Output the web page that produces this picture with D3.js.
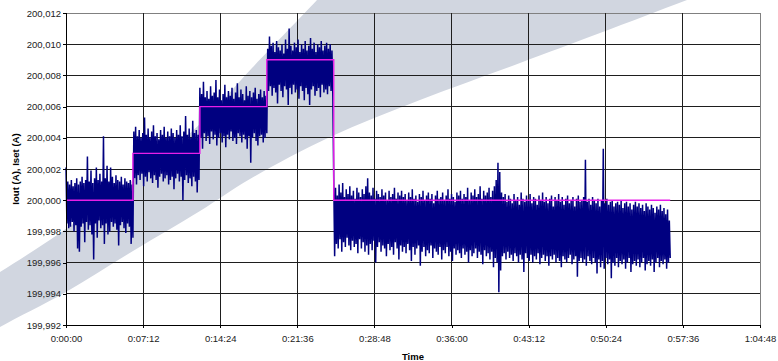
<!DOCTYPE html>
<html>
<head>
<meta charset="utf-8">
<script src="https://cdn.jsdelivr.net/npm/d3@7"></script>
<style>
  html, body { margin: 0; padding: 0; background: #ffffff; }
  svg { display: block; font-family: "Liberation Sans", Arial, sans-serif; }
</style>
</head>
<body>
<svg id="chart" width="778" height="361"></svg>
<script>
// ---- Time axis (seconds) ----
const xTickSeconds = [0, 432, 864, 1296, 1728, 2160, 2592, 3024, 3456, 3888];
const xTickLabels = ["0:00:00", "0:07:12", "0:14:24", "0:21:36", "0:28:48",
                     "0:36:00", "0:43:12", "0:50:24", "0:57:36", "1:04:48"];

// ---- Current axis (A) ----
const yTickValues = [199.992, 199.994, 199.996, 199.998, 200.000, 200.002,
                     200.004, 200.006, 200.008, 200.010, 200.012];
const yTickLabels = ["199,992", "199,994", "199,996", "199,998", "200,000", "200,002",
                     "200,004", "200,006", "200,008", "200,010", "200,012"];

// ---- Setpoint Iset: step start times (s) and levels (A) ----
const isetTimes  = [0, 375, 750, 1125, 1500, 3385];
const isetLevels = [200.000, 200.003, 200.006, 200.009, 200.000, 200.000];

// ---- Measured Iout ----
// For every 10 s interval the highest and lowest reading (A), one pair of arrays per setpoint step.
const SAMPLE_SECONDS = 10;
const stepStartSeconds = [0, 380, 750, 1130, 1500];

const step1High = [200.0021,200.0012,200.0010,200.0013,200.0009,200.0011,200.0014,200.0010,200.0012,200.0015,
  200.0011,200.0013,200.0028,200.0012,200.0019,200.0011,200.0014,200.0021,200.0013,200.0017,
  200.0012,200.0041,200.0014,200.0022,200.0012,200.0021,200.0015,200.0011,200.0016,200.0013,
  200.0012,200.0015,200.0010,200.0014,200.0012,200.0011,200.0013,200.0010];
const step1Low = [199.9985,199.9982,199.9983,199.9986,199.9980,199.9984,199.9969,199.9967,199.9983,199.9985,
  199.9973,199.9986,199.9981,199.9984,199.9978,199.9962,199.9985,199.9976,199.9987,199.9982,
  199.9984,199.9972,199.9985,199.9978,199.9980,199.9986,199.9983,199.9985,199.9981,199.9971,
  199.9984,199.9986,199.9982,199.9979,199.9985,199.9983,199.9972,199.9976];

const step2High = [200.0044,200.0047,200.0041,200.0045,200.0040,200.0043,200.0053,200.0042,200.0046,200.0040,
  200.0044,200.0048,200.0041,200.0043,200.0039,200.0045,200.0042,200.0047,200.0040,200.0044,
  200.0041,200.0046,200.0043,200.0040,200.0045,200.0042,200.0048,200.0041,200.0044,200.0054,
  200.0042,200.0046,200.0040,200.0051,200.0043,200.0045,200.0042];
const step2Low = [200.0014,200.0010,200.0016,200.0013,200.0017,200.0009,200.0015,200.0012,200.0018,200.0014,
  200.0011,200.0016,200.0013,200.0008,200.0015,200.0017,200.0012,200.0014,200.0016,200.0010,
  200.0013,200.0015,200.0007,200.0014,200.0017,200.0012,200.0015,200.0000,200.0013,200.0016,
  200.0011,200.0014,200.0009,200.0015,200.0012,200.0005,200.0013];

const step3High = [200.0072,200.0068,200.0076,200.0066,200.0070,200.0065,200.0073,200.0067,200.0069,200.0077,
  200.0066,200.0071,200.0064,200.0068,200.0074,200.0066,200.0070,200.0067,200.0072,200.0065,
  200.0069,200.0075,200.0066,200.0071,200.0068,200.0064,200.0073,200.0067,200.0070,200.0066,
  200.0069,200.0072,200.0065,200.0068,200.0071,200.0066,200.0070,200.0067];
const step3Low = [200.0040,200.0033,200.0043,200.0038,200.0041,200.0036,200.0044,200.0039,200.0042,200.0035,
  200.0040,200.0043,200.0037,200.0041,200.0034,200.0042,200.0039,200.0044,200.0038,200.0040,
  200.0036,200.0043,200.0041,200.0037,200.0042,200.0039,200.0033,200.0041,200.0024,200.0040,
  200.0043,200.0038,200.0035,200.0041,200.0042,200.0037,200.0040,200.0043];

const step4High = [200.0097,200.0105,200.0099,200.0101,200.0095,200.0102,200.0098,200.0096,200.0100,200.0094,
  200.0103,200.0097,200.0110,200.0099,200.0096,200.0101,200.0098,200.0103,200.0095,200.0100,
  200.0097,200.0102,200.0096,200.0099,200.0104,200.0097,200.0101,200.0095,200.0100,200.0098,
  200.0102,200.0096,200.0099,200.0101,200.0097,200.0100,200.0096];
const step4Low = [200.0070,200.0073,200.0067,200.0072,200.0069,200.0062,200.0074,200.0070,200.0066,200.0073,
  200.0071,200.0061,200.0072,200.0068,200.0074,200.0069,200.0071,200.0065,200.0073,200.0070,
  200.0064,200.0072,200.0068,200.0061,200.0071,200.0073,200.0067,200.0070,200.0072,200.0066,
  200.0074,200.0069,200.0071,200.0068,200.0073,200.0070,200.0066];

const step5High = [200.0012,200.0008,200.0003,200.0010,200.0005,200.0011,200.0002,200.0007,200.0004,200.0009,
  200.0003,200.0006,200.0001,200.0008,200.0005,200.0002,200.0007,200.0004,200.0009,200.0014,
  200.0005,200.0003,200.0008,200.0001,200.0006,200.0004,200.0002,200.0007,200.0003,200.0005,
  200.0000,200.0006,200.0002,200.0004,200.0008,200.0001,200.0005,200.0003,200.0006,200.0002,
  200.0004,200.0000,200.0005,200.0002,200.0007,200.0001,200.0003,199.9999,200.0004,200.0002,
  200.0006,200.0000,200.0003,200.0005,200.0001,200.0004,199.9998,200.0003,200.0006,200.0001,
  200.0002,200.0005,200.0000,200.0003,200.0007,200.0001,200.0004,200.0002,199.9999,200.0005,
  200.0003,200.0006,200.0001,200.0004,200.0002,200.0008,200.0000,200.0005,200.0003,200.0007,
  200.0002,200.0004,200.0009,200.0001,200.0006,200.0003,200.0005,200.0008,200.0002,200.0006,
  200.0009,200.0013,200.0024,200.0018,200.0005,200.0002,200.0004,199.9999,200.0003,200.0001,
  199.9998,200.0004,200.0000,200.0002,199.9997,200.0005,200.0001,199.9999,200.0003,200.0000,
  200.0004,199.9998,200.0002,200.0001,199.9997,200.0003,200.0000,200.0005,199.9999,200.0002,
  199.9998,200.0001,200.0003,199.9996,200.0002,200.0000,200.0004,199.9999,200.0002,199.9997,
  200.0001,200.0003,199.9998,200.0000,200.0002,199.9996,200.0001,200.0003,199.9999,200.0000,
  200.0002,200.0026,199.9999,200.0001,199.9997,200.0002,200.0000,199.9998,200.0001,199.9996,
  200.0000,200.0033,199.9998,200.0001,199.9997,199.9999,200.0000,199.9996,199.9998,199.9999,
  199.9997,200.0000,199.9995,199.9998,199.9999,199.9996,199.9998,199.9994,199.9997,199.9999,
  199.9996,199.9998,199.9995,199.9997,199.9993,199.9998,199.9996,199.9994,199.9997,199.9995,
  199.9992,199.9996,199.9994,199.9997,199.9993,199.9995,199.9991,199.9994,199.9987];
const step5Low = [199.9964,199.9972,199.9969,199.9975,199.9967,199.9973,199.9970,199.9976,199.9971,199.9968,
  199.9974,199.9970,199.9972,199.9966,199.9975,199.9969,199.9973,199.9967,199.9971,199.9965,
  199.9972,199.9968,199.9974,199.9960,199.9970,199.9973,199.9967,199.9971,199.9969,199.9964,
  199.9972,199.9968,199.9970,199.9965,199.9973,199.9969,199.9962,199.9971,199.9967,199.9970,
  199.9966,199.9972,199.9968,199.9961,199.9970,199.9965,199.9969,199.9971,199.9958,199.9967,
  199.9970,199.9964,199.9968,199.9966,199.9971,199.9963,199.9969,199.9967,199.9965,199.9970,
  199.9962,199.9968,199.9966,199.9970,199.9964,199.9967,199.9961,199.9969,199.9965,199.9968,
  199.9966,199.9963,199.9969,199.9965,199.9967,199.9960,199.9968,199.9964,199.9966,199.9969,
  199.9963,199.9967,199.9965,199.9959,199.9968,199.9964,199.9966,199.9962,199.9967,199.9957,
  199.9963,199.9960,199.9941,199.9955,199.9964,199.9966,199.9962,199.9967,199.9963,199.9965,
  199.9961,199.9966,199.9964,199.9960,199.9965,199.9962,199.9954,199.9966,199.9963,199.9961,
  199.9965,199.9960,199.9964,199.9962,199.9966,199.9959,199.9963,199.9965,199.9961,199.9964,
  199.9958,199.9964,199.9962,199.9965,199.9960,199.9963,199.9961,199.9957,199.9964,199.9962,
  199.9960,199.9963,199.9965,199.9959,199.9962,199.9964,199.9951,199.9961,199.9963,199.9960,
  199.9962,199.9958,199.9964,199.9961,199.9959,199.9963,199.9960,199.9953,199.9962,199.9957,
  199.9961,199.9956,199.9963,199.9959,199.9962,199.9950,199.9960,199.9958,199.9963,199.9957,
  199.9961,199.9959,199.9962,199.9956,199.9960,199.9963,199.9954,199.9959,199.9961,199.9958,
  199.9962,199.9957,199.9960,199.9963,199.9955,199.9959,199.9961,199.9958,199.9962,199.9954,
  199.9960,199.9963,199.9957,199.9961,199.9959,199.9962,199.9956,199.9960,199.9963];

const stepHighs = [step1High, step2High, step3High, step4High, step5High];
const stepLows  = [step1Low,  step2Low,  step3Low,  step4Low,  step5Low];

// ---- Layout ----
const plot = { left: 66, right: 760, top: 13, bottom: 325 };
const FONT = "\"Liberation Sans\", Arial, sans-serif";

const svg = d3.select("#chart");

// Decorative swoosh behind the chart
const swooshUpper = [[345, -30], [317, 0], [252, 68], [200, 124], [133, 180], [60, 233], [0, 272], [-30, 290]];
const swooshLower = [[-30, 345], [0, 327], [66, 292], [133, 251], [200, 211], [250, 179], [330, 137],
                     [420, 100], [520, 63], [600, 33], [687, 0], [760, -28]];
const edge = d3.line().curve(d3.curveCatmullRom.alpha(0.5));
svg.append("path")
  .attr("d", edge(swooshUpper) + "L" + edge(swooshLower).slice(1) + "Z")
  .attr("fill", "#d1d6e0");

const x = d3.scaleLinear().domain([0, 3888]).range([plot.left, plot.right]);
const y = d3.scaleLinear().domain([199.992, 200.012]).range([plot.bottom, plot.top]);

// Gridlines
const grid = svg.append("g").attr("shape-rendering", "crispEdges");
grid.selectAll("line.h").data(yTickValues).join("line")
  .attr("class", "h")
  .attr("x1", plot.left).attr("x2", plot.right)
  .attr("y1", d => y(d)).attr("y2", d => y(d))
  .attr("stroke", d => d === yTickValues[yTickValues.length - 1] ? "#808080" : "#1e1e1e");
grid.selectAll("line.v").data(xTickSeconds.slice(1)).join("line")
  .attr("class", "v")
  .attr("y1", plot.top).attr("y2", plot.bottom)
  .attr("x1", d => x(d)).attr("x2", d => x(d))
  .attr("stroke", d => d === xTickSeconds[xTickSeconds.length - 1] ? "#808080" : "#1e1e1e");

// Iout: high/low per interval, drawn as one continuous trace
const ioutPoints = [];
stepHighs.forEach((highs, k) => {
  highs.forEach((hi, j) => {
    const t = stepStartSeconds[k] + j * SAMPLE_SECONDS;
    ioutPoints.push([t, hi]);
    ioutPoints.push([t + SAMPLE_SECONDS / 2, stepLows[k][j]]);
  });
});
svg.append("path")
  .datum(ioutPoints)
  .attr("fill", "none")
  .attr("stroke", "#000080")
  .attr("stroke-width", 1.5)
  .attr("stroke-linejoin", "bevel")
  .attr("d", d3.line().x(d => x(d[0])).y(d => y(d[1])));

// Iset: step function
const isetPoints = isetTimes.map((t, i) => [t, isetLevels[i]]);
svg.append("path")
  .datum(isetPoints)
  .attr("fill", "none")
  .attr("stroke", "#e81ee8")
  .attr("stroke-width", 1.4)
  .attr("d", d3.line().curve(d3.curveStepAfter).x(d => x(d[0])).y(d => y(d[1])));

// Axes
const xAxis = d3.axisBottom(x)
  .tickValues(xTickSeconds)
  .tickFormat((d, i) => xTickLabels[i])
  .tickSize(3).tickPadding(7);
const yAxis = d3.axisLeft(y)
  .tickValues(yTickValues)
  .tickFormat((d, i) => yTickLabels[i])
  .tickSize(3).tickPadding(2);

const gx = svg.append("g")
  .attr("transform", `translate(0,${plot.bottom})`)
  .attr("shape-rendering", "crispEdges")
  .call(xAxis);
const gy = svg.append("g")
  .attr("transform", `translate(${plot.left},0)`)
  .attr("shape-rendering", "crispEdges")
  .call(yAxis);

[gx, gy].forEach(g => {
  g.select(".domain").attr("stroke", "#000").attr("stroke-width", 1);
  g.selectAll(".tick line").attr("stroke", "#000");
  g.selectAll(".tick text")
    .attr("fill", "#222")
    .attr("font-size", "9.5px")
    .attr("font-family", FONT);
});
gx.select(".domain").attr("d", `M${plot.left},0.5H${plot.right}`);
gy.select(".domain").attr("d", `M0.5,${plot.bottom}V${plot.top}`);

// Axis titles
svg.append("text")
  .attr("x", (plot.left + plot.right) / 2)
  .attr("y", 360)
  .attr("text-anchor", "middle")
  .attr("font-size", "9.5px")
  .attr("font-weight", "bold")
  .attr("fill", "#000")
  .text("Time");

svg.append("text")
  .attr("transform", `translate(18.5,${(plot.top + plot.bottom) / 2}) rotate(-90)`)
  .attr("text-anchor", "middle")
  .attr("font-size", "9.6px")
  .attr("font-weight", "bold")
  .attr("fill", "#000")
  .text("Iout (A), Iset (A)");
</script>
</body>
</html>
